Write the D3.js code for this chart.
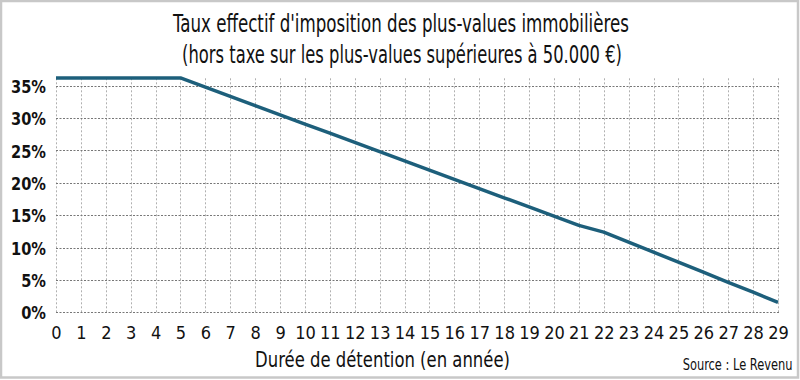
<!DOCTYPE html>
<html><head><meta charset="utf-8">
<script src="https://cdn.jsdelivr.net/npm/d3@7"></script>
<style>
body{margin:0;background:#fff;}
svg{display:block;}
text{font-family:"Liberation Sans Narrow","DejaVu Sans Condensed","Arial Narrow",sans-serif;fill:#111;}
</style></head>
<body>
<svg id="chart" width="800" height="380"></svg>
<script>
const years = [0,1,2,3,4,5,6,7,8,9,10,11,12,13,14,15,16,17,18,19,20,21,22,23,24,25,26,27,28,29];
const rates = [36.2,36.2,36.2,36.2,36.2,36.2,34.78,33.35,31.93,30.51,29.08,27.66,26.23,24.81,23.39,21.96,20.54,19.11,17.69,16.27,14.84,13.42,12.38,10.84,9.29,7.74,6.19,4.64,3.10,1.55];
const yTicks = [0,5,10,15,20,25,30,35];
const titleLines = ["Taux effectif d'imposition des plus-values immobilières","(hors taxe sur les plus-values supérieures à 50.000 €)"];
const xTitle = "Durée de détention (en année)";
const sourceText = "Source : Le Revenu";

const svg = d3.select("#chart");
svg.append("rect").attr("x",1).attr("y",1).attr("width",797).attr("height",376.5)
  .attr("fill","#fff").attr("stroke","#c8c8c8").attr("stroke-width",2.5);

const x = d3.scaleLinear().domain([0,29]).range([56,778]);
const y = d3.scaleLinear().domain([0,35]).range([312.3,85.7]);

// vertical grid
svg.append("g").selectAll("line").data(years).join("line")
  .attr("x1",d=>Math.round(x(d))+0.5).attr("x2",d=>Math.round(x(d))+0.5)
  .attr("y1",y(0)).attr("y2",y(36.4))
  .attr("stroke","#b0b0b0").attr("stroke-width",1).attr("stroke-dasharray","2,2");
// horizontal grid
svg.append("g").selectAll("line").data(yTicks).join("line")
  .attr("x1",x(0)).attr("x2",x(29)+1)
  .attr("y1",d=>Math.round(y(d))+0.5).attr("y2",d=>Math.round(y(d))+0.5)
  .attr("stroke","#777").attr("stroke-width",1).attr("stroke-dasharray","2,1.5");

// helper: horizontally fit a text to a width with a scale transform
function fitText(g, str, size, weight, anchor, tx, ty, width){
  const grp = g.append("g");
  const t = grp.append("text").attr("font-size",size).attr("font-weight",weight)
    .attr("text-anchor",anchor).text(str);
  const len = t.node().getComputedTextLength();
  const sx = width/len;
  grp.attr("transform",`translate(${tx},${ty}) scale(${sx},1)`);
  return grp;
}

// y axis labels
const yAxis = d3.axisLeft(y).tickValues(yTicks).tickFormat(d=>d+"%").tickSize(0).tickPadding(0);
const ya = svg.append("g").attr("transform","translate(46,0)").call(yAxis);
ya.select(".domain").remove();
ya.selectAll("text").attr("font-size",18.5).attr("font-weight","bold")
  .style("font-family",'"Liberation Sans Narrow","DejaVu Sans Condensed",sans-serif').attr("fill","#111").attr("dy","0.36em");
{
  let ref = 1;
  ya.selectAll("text").each(function(d){ if(d===35){ ref = this.getComputedTextLength(); } });
  const sx = 35/ref;
  ya.selectAll(".tick").each(function(){
    const tr = d3.select(this).attr("transform");
    d3.select(this).attr("transform", tr + ` scale(${sx},1)`);
  });
}

// x axis labels
const xAxis = d3.axisBottom(x).tickValues(years).tickFormat(d=>d).tickSize(0).tickPadding(0);
const xa = svg.append("g").attr("transform","translate(0,325)").call(xAxis);
xa.select(".domain").remove();
xa.selectAll("text").attr("font-size",18)
  .style("font-family",'"Liberation Sans Narrow","DejaVu Sans Condensed",sans-serif').attr("fill","#111").attr("dy","0.78em");

// line
const line = d3.line().x((d,i)=>x(years[i])).y(d=>y(d));
svg.append("path").datum(rates).attr("d",line).attr("fill","none")
  .attr("stroke","#1d5f7b").attr("stroke-width",3.5).attr("stroke-linejoin","round");

// titles
fitText(svg, titleLines[0], 25, "normal", "middle", 401, 32, 456);
fitText(svg, titleLines[1], 25, "normal", "middle", 402, 62.5, 440);
fitText(svg, xTitle, 21, "normal", "middle", 382.5, 366.7, 255);
fitText(svg, sourceText, 15.5, "normal", "end", 792.5, 369.5, 110);
</script>
</body></html>
